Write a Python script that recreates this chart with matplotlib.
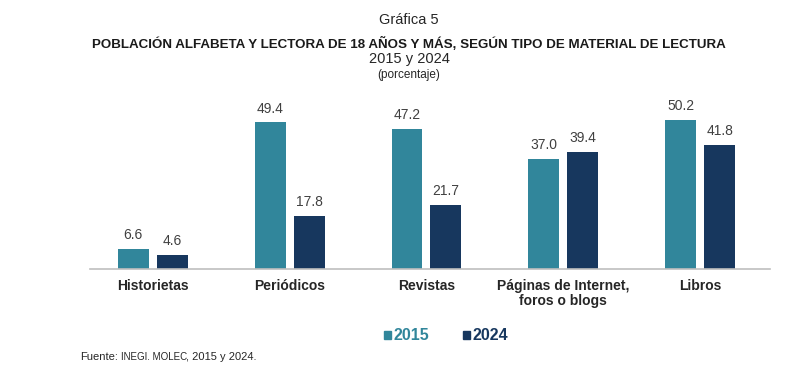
import matplotlib.pyplot as plt
import numpy as np

plt.rcParams['font.family'] = ['Liberation Sans', 'DejaVu Sans']

categorias = ['Historietas', 'Periódicos', 'Revistas', 'Páginas de Internet,\nforos o blogs', 'Libros']
valores_2015 = [6.6, 49.4, 47.2, 37.0, 50.2]
valores_2024 = [4.6, 17.8, 21.7, 39.4, 41.8]
anios = ['2015', '2024']
colores = ['#31869B', '#17375E']

fig = plt.figure(figsize=(8.02, 3.83), dpi=100)
ax = fig.add_axes([0.112, 0.298, 0.848, 0.441])

x = np.arange(len(categorias))
ancho = 0.226
off = 0.142
b1 = ax.bar(x - off, valores_2015, ancho, color=colores[0])
b2 = ax.bar(x + off, valores_2024, ancho, color=colores[1])

for barras in (b1, b2):
    for r in barras:
        ax.annotate(f'{r.get_height():.1f}', (r.get_x() + r.get_width() / 2, r.get_height()),
                    xytext=(0, 5), textcoords='offset points', ha='center', va='bottom',
                    fontsize=10, color='#404040')

ax.set_xlim(-0.46, 4.51)
ax.set_ylim(0, 57)
ax.set_yticks([])
ax.set_xticks(x)
ax.set_xticklabels(categorias, fontsize=10, fontweight='bold', color='#262626', linespacing=1.1)
ax.tick_params(axis='x', length=0, pad=7)
for s in ['top', 'right', 'left']:
    ax.spines[s].set_visible(False)
ax.spines['bottom'].set_color('#BFBFBF')
ax.spines['bottom'].set_linewidth(1.2)

# titulos
cx = 409 / 802
fig.text(cx, 1 - 20 / 383, 'Gráfica 5', ha='center', va='center', fontsize=10.5, color='#262626')
fig.text(cx, 1 - 44 / 383, 'POBLACIÓN ALFABETA Y LECTORA DE 18 AÑOS Y MÁS, SEGÚN TIPO DE MATERIAL DE LECTURA',
         ha='center', va='center', fontsize=9.6, fontweight='bold', color='#1a1a1a')
fig.text(cx, 1 - 59 / 383, '2015 y 2024', ha='center', va='center', fontsize=10.5, color='#262626')
fig.text(cx, 1 - 75 / 383, '(porcentaje)', ha='center', va='center', fontsize=8.5, color='#262626')

# leyenda
for i, (a, c) in enumerate(zip(anios, colores)):
    xs = (384 + i * 79) / 802
    fig.patches.append(plt.Rectangle((xs, 1 - 339 / 383), 7 / 802, 8 / 383, color=c,
                                     transform=fig.transFigure, figure=fig))
    fig.text(xs + 10 / 802, 1 - 335 / 383, a, ha='left', va='center', fontsize=11.5,
             fontweight='bold', color=c)

fig.text(80 / 802, 1 - 357 / 383, 'Fuente:', ha='left', va='center', fontsize=8, color='#262626')
fig.text(121 / 802, 1 - 357 / 383, 'INEGI. MOLEC', ha='left', va='center', fontsize=7, color='#262626')
fig.text(186 / 802, 1 - 357 / 383, ', 2015 y 2024.', ha='left', va='center', fontsize=8, color='#262626')

fig.savefig('out.png', dpi=100, facecolor='white')
